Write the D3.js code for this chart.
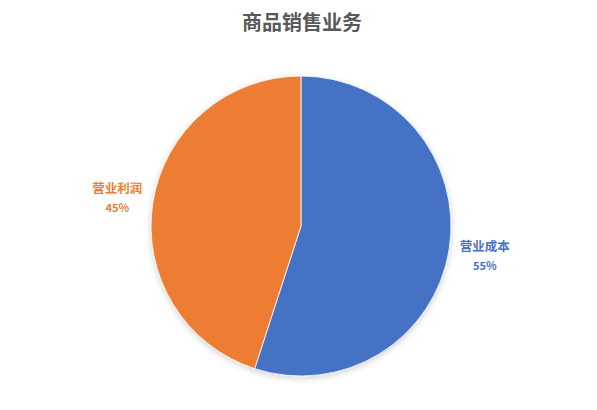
<!DOCTYPE html>
<html><head><meta charset="utf-8">
<script src="https://cdn.jsdelivr.net/npm/d3@7"></script>
<style>html,body{margin:0;padding:0;background:#fff;}</style>
</head><body>
<svg id="c" width="597" height="410"></svg>
<script>
const title = "商品销售业务";
const categories = ["营业成本", "营业利润"];
const values = [55, 45];
const colors = ["#4472C4", "#ED7D31"];

const svg = d3.select("#c");
const W = 597, H = 410, cx = 301, cy = 226, R = 150;
const font = "'Noto Sans CJK SC', 'Microsoft YaHei', sans-serif";

const defs = svg.append("defs");
const f = defs.append("filter").attr("id","sh").attr("x","-20%").attr("y","-20%").attr("width","140%").attr("height","140%");
f.append("feDropShadow").attr("dx",0).attr("dy",2).attr("stdDeviation",3).attr("flood-color","#000").attr("flood-opacity",0.18);

svg.append("text").attr("x", 302).attr("y", 30).attr("text-anchor","middle")
  .attr("font-family", font).attr("font-size", 20).attr("font-weight","bold")
  .attr("fill","#595959").text(title);

const data = categories.map((c,i)=>({cat:c, v:values[i], color:colors[i]}));
const pie = d3.pie().value(d=>d.v).sort(null);
const arc = d3.arc().innerRadius(0).outerRadius(R);
const g = svg.append("g").attr("transform",`translate(${cx},${cy})`);
const arcs = pie(data);
g.append("g").attr("filter","url(#sh)").selectAll("path").data(arcs).join("path")
  .attr("d", arc).attr("fill", d=>d.data.color).attr("stroke","#fff").attr("stroke-width",0.8);

const total = d3.sum(values);
const labelArc = d3.arc().innerRadius(R*1.24).outerRadius(R*1.24);
const lbl = g.selectAll("g.lbl").data(arcs).join("g").attr("class","lbl")
  .attr("transform", d=>{ const [x,y] = labelArc.centroid(d); return `translate(${x},${y})`; });
lbl.append("text").attr("text-anchor","middle").attr("y",-4)
  .attr("font-family", font).attr("font-size", 12.5).attr("font-weight","bold")
  .attr("fill", d=>d.data.color).text(d=>d.data.cat);
lbl.append("text").attr("text-anchor","middle").attr("y",15)
  .attr("font-family", font).attr("font-size", 11).attr("font-weight","bold")
  .attr("fill", d=>d.data.color).text(d=>Math.round(d.data.v/total*100)+"%");
</script>
</body></html>
